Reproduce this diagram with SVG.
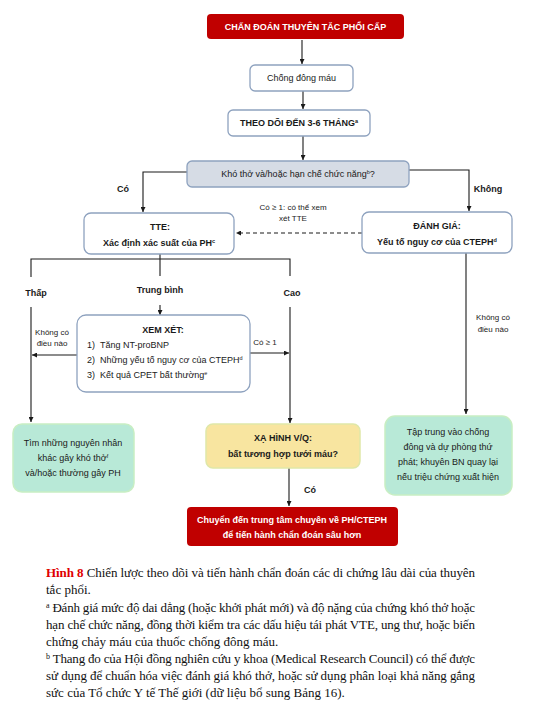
<svg xmlns="http://www.w3.org/2000/svg" width="554" height="708" viewBox="0 0 554 708">
<style>
text{font-family:"Liberation Sans",Arial,sans-serif;font-size:9px;fill:#1a1a1a}
.b{font-weight:bold}
.c{text-anchor:middle}
.w{fill:#fff;font-weight:bold}
.s{font-size:8px}
.sup{font-size:5.5px}
.red{fill:#c00000}
.wb{fill:#fff;stroke:#8ea2bf;stroke-width:1.3}
.gray{fill:#d6dce5;stroke:#8ea2bf;stroke-width:1.3}
.green{fill:#b8e9d7;stroke:#c8eec3;stroke-width:1.5}
.yel{fill:#f8e5a0;stroke:#dfe7a8;stroke-width:1.5}
.ln{fill:none;stroke:#1a1a1a;stroke-width:1.1}
.dash{stroke-dasharray:4 3}
.cap{font-family:"Liberation Serif","Times New Roman",serif;font-size:13px;fill:#111}
</style>
<defs>
<marker id="ah" viewBox="0 0 10 10" refX="10" refY="5" markerWidth="5" markerHeight="5" orient="auto" markerUnits="userSpaceOnUse">
<path d="M0,0 L10,5 L0,10 z" fill="#1a1a1a"/>
</marker>
</defs>
<rect width="554" height="708" fill="#fff"/>

<g id="connectors">
<line class="ln" x1="302" y1="40" x2="302" y2="64" marker-end="url(#ah)"/>
<line class="ln" x1="303" y1="91" x2="303" y2="109" marker-end="url(#ah)"/>
<line class="ln" x1="303" y1="136" x2="303" y2="160" marker-end="url(#ah)"/>
<path class="ln" d="M187,172 H143 V212" marker-end="url(#ah)"/>
<path class="ln" d="M409,170 H469 V211" marker-end="url(#ah)"/>
<path class="ln dash" d="M362,233 H236" marker-end="url(#ah)"/>
<path class="ln" d="M160,254 V276 M31,277 V259 H290 V276"/>
<line class="ln" x1="31" y1="307" x2="31" y2="422" marker-end="url(#ah)"/>
<line class="ln" x1="160" y1="305" x2="160" y2="315" marker-end="url(#ah)"/>
<line class="ln" x1="290" y1="307" x2="290" y2="423" marker-end="url(#ah)"/>
<line class="ln" x1="77" y1="355" x2="32" y2="355" marker-end="url(#ah)"/>
<line class="ln" x1="250" y1="353" x2="289" y2="353" marker-end="url(#ah)"/>
<line class="ln" x1="466" y1="253" x2="466" y2="414" marker-end="url(#ah)"/>
<line class="ln" x1="289" y1="468" x2="289" y2="506" marker-end="url(#ah)"/>
<text class="b c" x="123" y="192">Có</text>
<text class="b c" x="488" y="192">Không</text>
<text class="s c" x="293" y="210">Có ≥ 1: có thể xem</text>
<text class="s c" x="293" y="221">xét TTE</text>
<text class="b c" x="36" y="296">Thấp</text>
<text class="b c" x="160" y="293">Trung bình</text>
<text class="b c" x="292" y="296">Cao</text>
<text class="s c" x="52" y="335">Không có</text>
<text class="s c" x="52" y="346">điều nào</text>
<text class="s c" x="265" y="345">Có ≥ 1</text>
<text class="s c" x="493" y="320">Không có</text>
<text class="s c" x="493" y="332">điều nào</text>
<text class="b c" x="310" y="493">Có</text>
</g>

<g id="n-start">
<rect class="red" x="207" y="14" width="197" height="25" rx="4"/>
<text class="w c" x="305.5" y="30">CHẤN ĐOÁN THUYÊN TẮC PHỔI CẤP</text>
</g>
<g id="n-anticoag">
<rect class="wb" x="250" y="65" width="103" height="26" rx="5"/>
<text class="c" x="301.5" y="81">Chống đông máu</text>
</g>
<g id="n-followup">
<rect class="wb" x="228" y="110" width="142" height="26" rx="5"/>
<text class="b c" x="299" y="126">THEO DÕI ĐẾN 3-6 THÁNG<tspan class="sup" dy="-3.5">a</tspan></text>
</g>
<g id="n-dyspnea">
<rect class="gray" x="187" y="161" width="222" height="26" rx="5"/>
<text class="c" x="298" y="177">Khó thở và/hoặc hạn chế chức năng<tspan class="sup" dy="-3.5">b</tspan><tspan dy="3.5">?</tspan></text>
</g>
<g id="n-tte">
<rect class="wb" x="84" y="213" width="150" height="41" rx="7"/>
<text class="b c" x="160" y="230">TTE:</text>
<text class="b c" x="159" y="246">Xác định xác suất của PH<tspan class="sup" dy="-3.5">c</tspan></text>
</g>
<g id="n-assess">
<rect class="wb" x="362" y="212" width="150" height="41" rx="7"/>
<text class="b c" x="437" y="229">ĐÁNH GIÁ:</text>
<text class="b c" x="437" y="245">Yếu tố nguy cơ của CTEPH<tspan class="sup" dy="-3.5">d</tspan></text>
</g>
<g id="n-consider">
<rect class="wb" x="77" y="315" width="173" height="77" rx="9"/>
<text class="b c" x="163" y="333">XEM XÉT:</text>
<text x="87" y="348">1)</text><text x="100" y="348">Tăng NT-proBNP</text>
<text x="87" y="363">2)</text><text x="100" y="363">Những yếu tố nguy cơ của CTEPH<tspan class="sup" dy="-3.5">d</tspan></text>
<text x="87" y="378">3)</text><text x="100" y="378">Kết quả CPET bất thường<tspan class="sup" dy="-3.5">e</tspan></text>
</g>
<g id="n-other">
<rect class="green" x="13" y="424" width="121" height="68" rx="9"/>
<text class="c" x="73" y="446">Tìm những nguyên nhân</text>
<text class="c" x="73" y="461">khác gây khó thở<tspan class="sup" dy="-3.5">f</tspan></text>
<text class="c" x="73" y="476">và/hoặc thường gây PH</text>
</g>
<g id="n-vq">
<rect class="yel" x="206" y="424" width="154" height="44" rx="7"/>
<text class="b c" x="283" y="441">XẠ HÌNH V/Q:</text>
<text class="b c" x="283" y="457">bất tương hợp tưới máu?</text>
</g>
<g id="n-focus">
<rect class="green" x="385" y="416" width="127" height="79" rx="10"/>
<text class="c" x="448" y="435">Tập trung vào chống</text>
<text class="c" x="448" y="450">đông và dự phòng thứ</text>
<text class="c" x="448" y="465">phát; khuyên BN quay lại</text>
<text class="c" x="448" y="480">nếu triệu chứng xuất hiện</text>
</g>
<g id="n-refer">
<rect class="red" x="187" y="507" width="211" height="39" rx="4"/>
<text class="w c" x="292" y="523">Chuyển đến trung tâm chuyên về PH/CTEPH</text>
<text class="w c" x="292" y="538">để tiến hành chẩn đoán sâu hơn</text>
</g>

<g id="caption">
<text class="cap" x="46" y="577" textLength="429" lengthAdjust="spacing"><tspan font-weight="bold" fill="#e00000">Hình 8</tspan> Chiến lược theo dõi và tiến hành chẩn đoán các di chứng lâu dài của thuyên</text>
<text class="cap" x="46" y="594">tắc phổi.</text>
<text class="cap" x="46" y="612" textLength="429" lengthAdjust="spacing"><tspan font-size="8" dy="-4">a</tspan><tspan dy="4"> Đánh giá mức độ dai dẳng (hoặc khởi phát mới) và độ nặng của chứng khó thở hoặc</tspan></text>
<text class="cap" x="46" y="629" textLength="429" lengthAdjust="spacing">hạn chế chức năng, đồng thời kiểm tra các dấu hiệu tái phát VTE, ung thư, hoặc biến</text>
<text class="cap" x="46" y="646">chứng chảy máu của thuốc chống đông máu.</text>
<text class="cap" x="46" y="663" textLength="429" lengthAdjust="spacing"><tspan font-size="8" dy="-4">b</tspan><tspan dy="4"> Thang đo của Hội đồng nghiên cứu y khoa (Medical Research Council) có thể được</tspan></text>
<text class="cap" x="46" y="680" textLength="429" lengthAdjust="spacing">sử dụng để chuẩn hóa việc đánh giá khó thở, hoặc sử dụng phân loại khả năng gắng</text>
<text class="cap" x="46" y="697">sức của Tổ chức Y tế Thế giới (dữ liệu bổ sung Bảng 16).</text>
</g>
</svg>
